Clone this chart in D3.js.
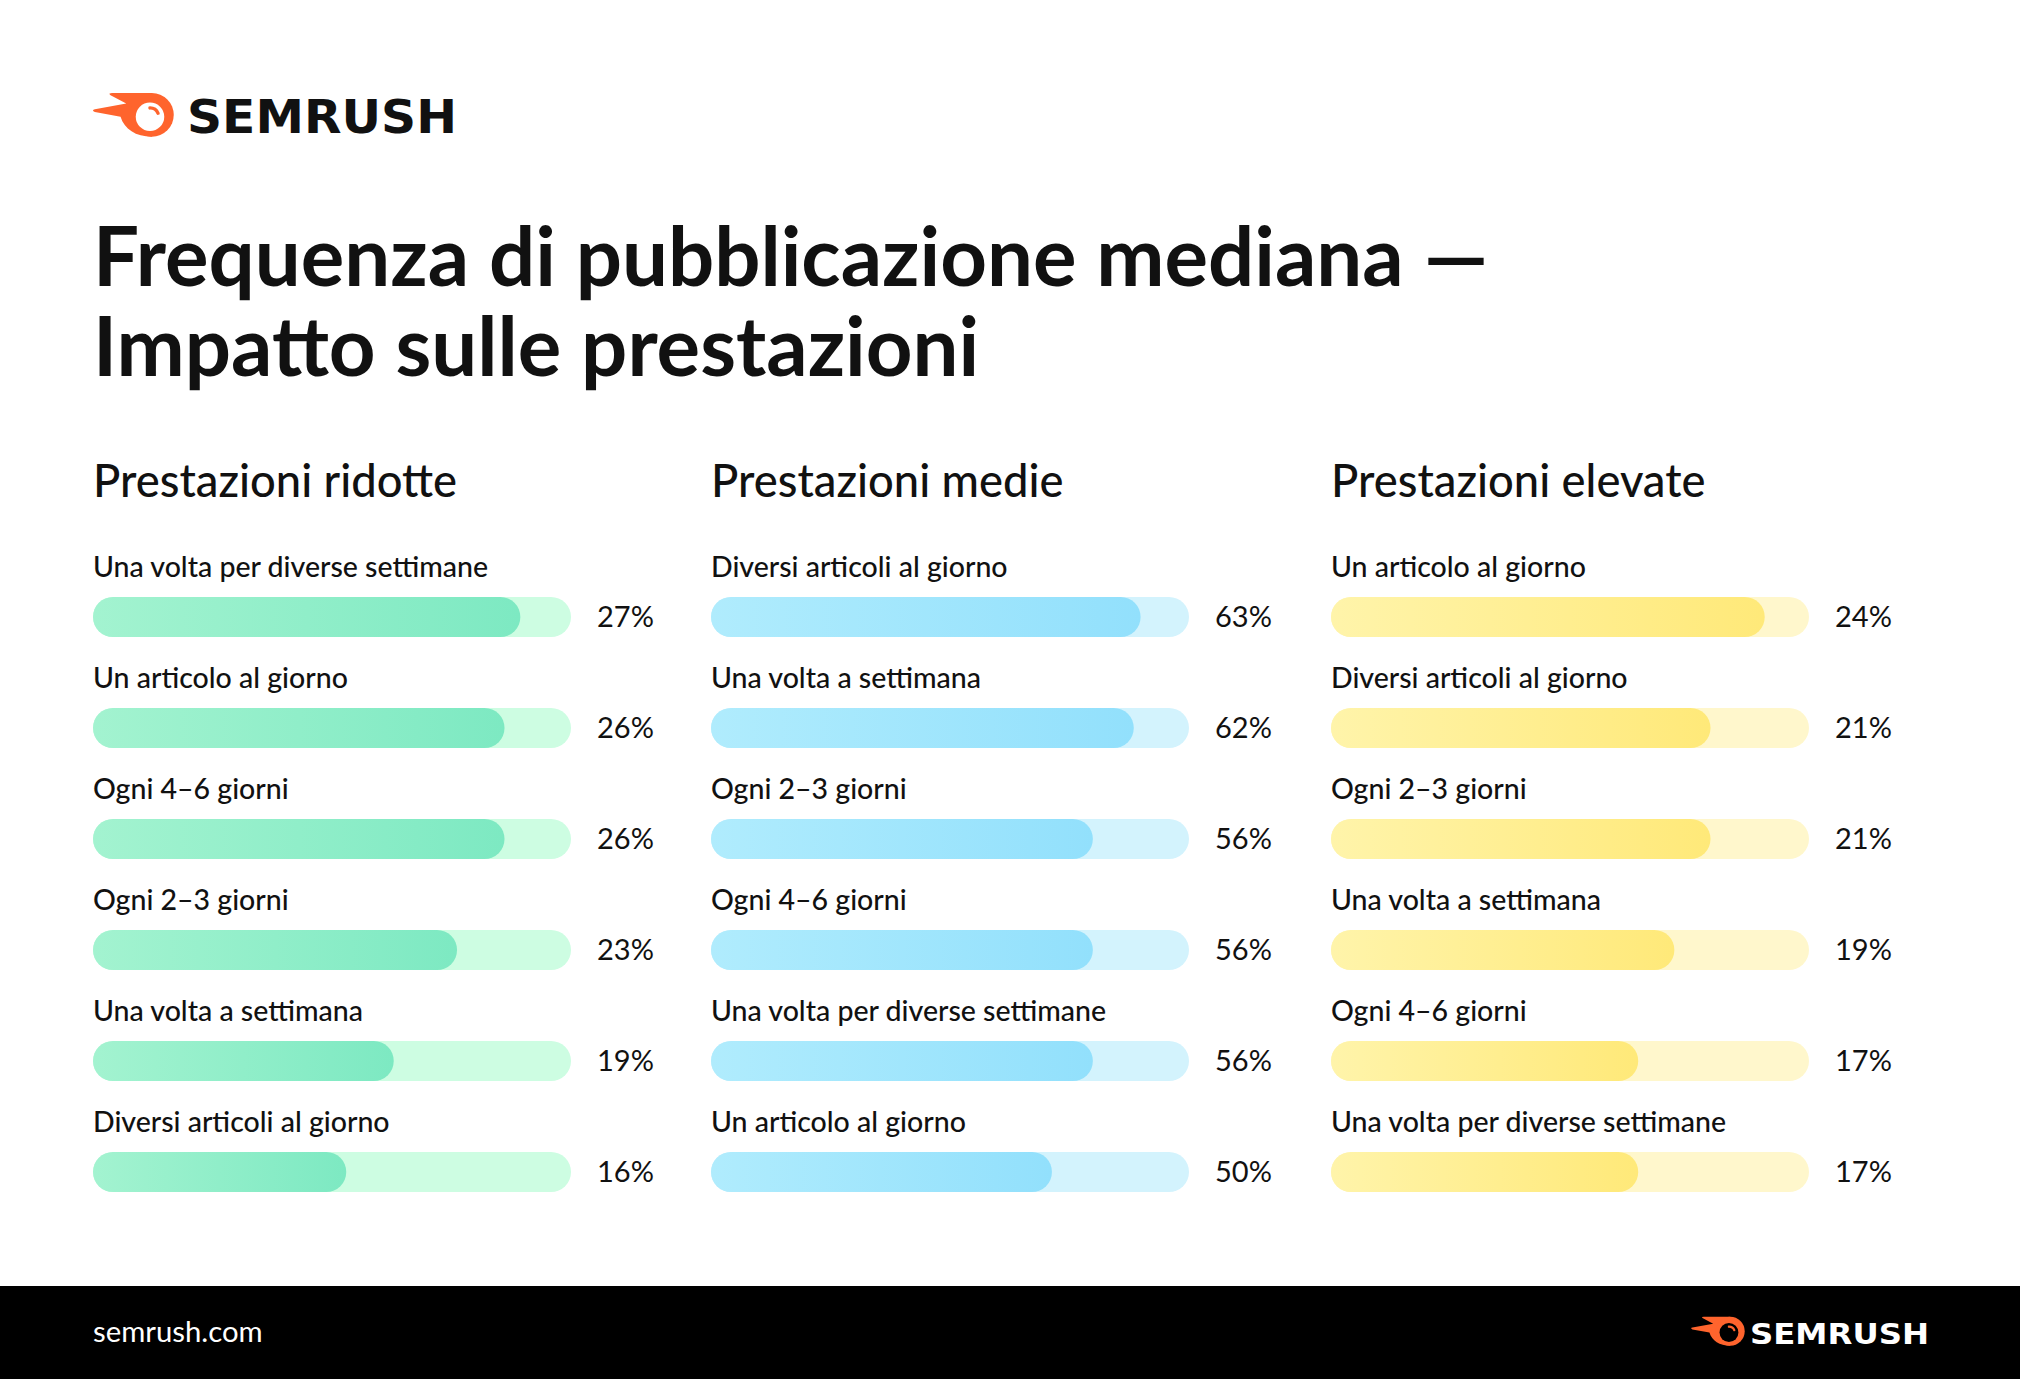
<!DOCTYPE html>
<html>
<head>
<meta charset="utf-8">
<script src="https://cdn.jsdelivr.net/npm/d3@7"></script>
<style>
  html, body { margin: 0; padding: 0; background: #ffffff; }
  svg { display: block; }
</style>
</head>
<body>
<svg id="chart" width="2020" height="1379"></svg>
<script>
// ---- DATA ----
const titleLines = ["Frequenza di pubblicazione mediana —", "Impatto sulle prestazioni"];
const panelTitles = ["Prestazioni ridotte", "Prestazioni medie", "Prestazioni elevate"];

const lowCategories = ["Una volta per diverse settimane", "Un articolo al giorno", "Ogni 4–6 giorni", "Ogni 2–3 giorni", "Una volta a settimana", "Diversi articoli al giorno"];
const lowValues = [27, 26, 26, 23, 19, 16];

const midCategories = ["Diversi articoli al giorno", "Una volta a settimana", "Ogni 2–3 giorni", "Ogni 4–6 giorni", "Una volta per diverse settimane", "Un articolo al giorno"];
const midValues = [63, 62, 56, 56, 56, 50];

const highCategories = ["Un articolo al giorno", "Diversi articoli al giorno", "Ogni 2–3 giorni", "Una volta a settimana", "Ogni 4–6 giorni", "Una volta per diverse settimane"];
const highValues = [24, 21, 21, 19, 17, 17];

const footerText = "semrush.com";
const brandName = "SEMRUSH";

// ---- LAYOUT ----
const W = 2020, H = 1379;
const svg = d3.select("#chart");
const FONT = "Lato, 'Open Sans', sans-serif";
const INK = "#111111";

const panels = [
  { title: panelTitles[0], cats: lowCategories, vals: lowValues, x: 93, max: 30.2,
    c0: "#a3f3d0", c1: "#7de9c2", track: "#cdfde2" },
  { title: panelTitles[1], cats: midCategories, vals: midValues, x: 711, max: 70.1,
    c0: "#b0ecfd", c1: "#92e0fc", track: "#d3f3fd" },
  { title: panelTitles[2], cats: highCategories, vals: highValues, x: 1331, max: 26.45,
    c0: "#fff4aa", c1: "#ffe979", track: "#fff7cc" }
];
const trackW = 478, barH = 40, row0 = 617, rowStep = 111;

const defs = svg.append("defs");

// ---- LOGO ----
function drawLogo(g, iconTx, iconTy, iconScale, textX, textY, fontSize, textLen, textColor, iconInner) {
  const ic = g.append("g").attr("transform", `translate(${iconTx},${iconTy}) scale(${iconScale})`);
  ic.append("path")
    .attr("d", "M67,6 L25,6 Q21,6 23,8 L40,17 L7,23 Q3,24 7,26 L34,31 C38,44 50,52 67,52 Z")
    .attr("fill", "#ff642d");
  ic.append("circle").attr("cx", 67).attr("cy", 29).attr("r", 23).attr("fill", "#ff642d");
  ic.append("circle").attr("cx", 65).attr("cy", 31).attr("r", 15).attr("fill", iconInner);
  const arc = d3.arc().innerRadius(7.5).outerRadius(11).startAngle(-0.2).endAngle(1.35).cornerRadius(1.7);
  ic.append("path").attr("transform", "translate(65,31)").attr("d", arc()).attr("fill", "#ff642d");
  g.append("text")
    .attr("x", textX).attr("y", textY)
    .attr("font-family", "'DejaVu Sans', Lato, sans-serif")
    .attr("font-weight", 700)
    .attr("font-size", fontSize)
    .attr("fill", textColor)
    .attr("textLength", textLen)
    .attr("lengthAdjust", "spacingAndGlyphs")
    .text(brandName);
}
drawLogo(svg.append("g"), 88.25, 87.3, 0.95, 187, 133, 46, 270, INK, "#ffffff");

// ---- TITLE ----
svg.append("g").selectAll("text").data(titleLines).join("text")
  .attr("x", 93)
  .attr("y", (d, i) => 286 + i * 90)
  .attr("font-family", FONT)
  .attr("font-weight", 700)
  .attr("font-size", 81.5)
  .attr("fill", INK)
  .text(d => d);

// ---- PANELS ----
panels.forEach((p, pi) => {
  const g = svg.append("g");
  const x = d3.scaleLinear().domain([0, p.max]).range([0, trackW]);
  const y = d3.scaleBand().domain(p.cats).range([row0 - rowStep / 2, row0 - rowStep / 2 + rowStep * p.cats.length]);

  const grad = defs.append("linearGradient").attr("id", "grad" + pi)
    .attr("x1", 0).attr("x2", 1).attr("y1", 0).attr("y2", 0);
  grad.append("stop").attr("offset", 0).attr("stop-color", p.c0);
  grad.append("stop").attr("offset", 1).attr("stop-color", p.c1);

  g.append("text")
    .attr("x", p.x).attr("y", 497)
    .attr("font-family", FONT).attr("font-weight", 500)
    .attr("font-size", 45.3).attr("fill", INK)
    .text(p.title);

  const rows = g.selectAll("g.row").data(p.cats.map((c, i) => ({ c, v: p.vals[i] })))
    .join("g").attr("class", "row")
    .attr("transform", d => `translate(${p.x},${y(d.c) + y.bandwidth() / 2})`);

  rows.append("rect")
    .attr("x", 0).attr("y", -barH / 2)
    .attr("width", trackW).attr("height", barH)
    .attr("rx", barH / 2).attr("fill", p.track);

  rows.append("rect")
    .attr("x", 0).attr("y", -barH / 2)
    .attr("width", d => x(d.v)).attr("height", barH)
    .attr("rx", barH / 2).attr("fill", `url(#grad${pi})`);

  rows.append("text")
    .attr("x", 0).attr("y", -40)
    .attr("font-family", FONT).attr("font-weight", 500)
    .attr("font-size", 28.5).attr("fill", INK)
    .text(d => d.c);

  rows.append("text")
    .attr("x", 504).attr("y", 0).attr("dy", "0.36em")
    .attr("font-family", FONT).attr("font-weight", 400)
    .attr("font-size", 29).attr("fill", INK)
    .text(d => d.v + "%");
});

// ---- FOOTER ----
svg.append("rect").attr("x", 0).attr("y", 1286).attr("width", W).attr("height", H - 1286).attr("fill", "#000000");
svg.append("text")
  .attr("x", 93).attr("y", 1342)
  .attr("font-family", FONT).attr("font-weight", 400)
  .attr("font-size", 29.3).attr("fill", "#ffffff")
  .text(footerText);
drawLogo(svg.append("g"), 1688, 1313, 0.63, 1750, 1344, 29, 179, "#ffffff", "#000000");
</script>
</body>
</html>
